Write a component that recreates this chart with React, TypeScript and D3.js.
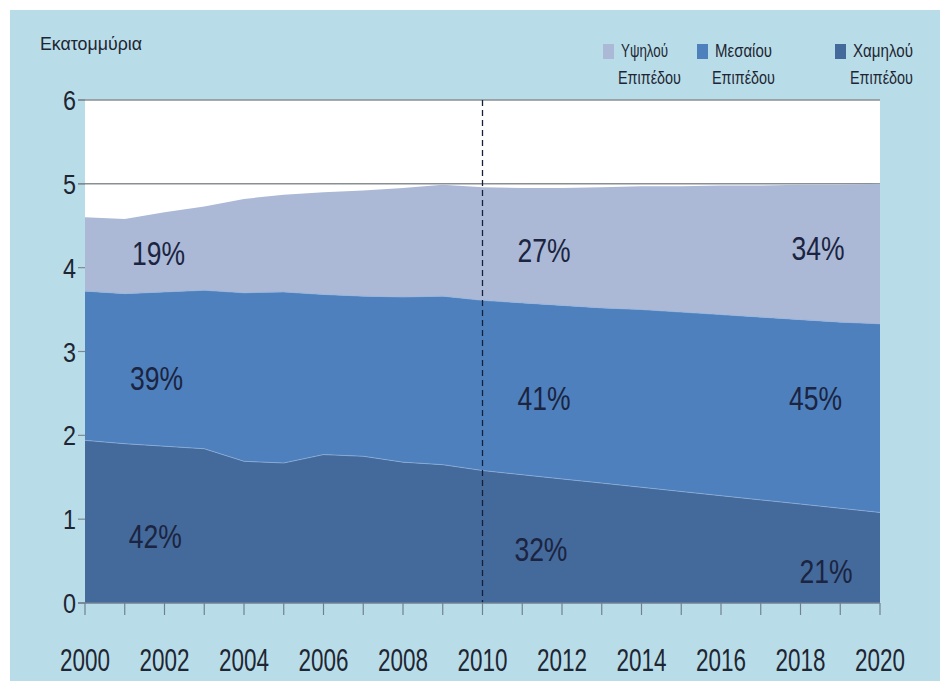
import React from "react";
import * as d3 from "d3";

// values (millions of people)
const years = d3.range(2000, 2021);
const lowLevel = [1.94, 1.9, 1.87, 1.84, 1.69, 1.67, 1.77, 1.75, 1.68, 1.65, 1.58, 1.53, 1.48, 1.43, 1.38, 1.33, 1.28, 1.23, 1.18, 1.13, 1.08];
const midLevel = [1.78, 1.79, 1.84, 1.89, 2.01, 2.04, 1.91, 1.91, 1.97, 2.01, 2.03, 2.05, 2.07, 2.09, 2.12, 2.14, 2.16, 2.18, 2.2, 2.22, 2.25];
const highLevel = [0.88, 0.89, 0.95, 1.0, 1.12, 1.16, 1.22, 1.26, 1.3, 1.33, 1.35, 1.37, 1.4, 1.44, 1.47, 1.5, 1.54, 1.57, 1.61, 1.64, 1.67];

const seriesKeys = ["low", "mid", "high"];
const seriesColors = ["#44699b", "#4e80bd", "#abb9d7"];
const legendLabels = ["Υψηλού", "Μεσαίου", "Χαμηλού"];
const yTicks = [0, 1, 2, 3, 4, 5, 6];
const xTickLabels = d3.range(2000, 2021, 2);

// share labels: [year, value, text]
const shareLabels: [number, number, string][] = [
  [2001.85, 4.03, "19%"],
  [2001.8, 2.54, "39%"],
  [2001.77, 0.66, "42%"],
  [2011.55, 4.07, "27%"],
  [2011.55, 2.3, "41%"],
  [2011.47, 0.5, "32%"],
  [2018.44, 4.09, "34%"],
  [2018.38, 2.3, "45%"],
  [2018.64, 0.24, "21%"],
];

const W = 940;
const H = 681;
const margin = { left: 85, right: 60, top: 100, bottom: 78 };
const font = "'Liberation Sans', Arial, sans-serif";

export default function App() {
  const x = d3.scaleLinear().domain([2000, 2020]).range([margin.left, W - margin.right]);
  const y = d3.scaleLinear().domain([0, 6]).range([H - margin.bottom, margin.top]);

  const rows = years.map((yr, i) => ({ year: yr, low: lowLevel[i], mid: midLevel[i], high: highLevel[i] }));
  const stacked = d3.stack<any>().keys(seriesKeys)(rows);
  const area = d3
    .area<any>()
    .x((d) => x(d.data.year))
    .y0((d) => y(d[0]))
    .y1((d) => y(d[1]));
  const topLine = d3
    .line<any>()
    .x((d) => x(d.data.year))
    .y((d) => y(d[1]));

  const [x0, x1] = x.range();
  const legendX = [603, 697, 835];
  const legendW = [47, 57, 60];

  return (
    <div style={{ position: "absolute", left: 0, top: 0 }}>
      <svg width={W} height={H} style={{ display: "block" }}>
        <rect x={0} y={0} width={W} height={H} fill="#ffffff" />
        <rect x={10} y={10} width={W - 10} height={H - 10} fill="#b9dde8" />
        <rect x={x0} y={y(6)} width={x1 - x0} height={y(0) - y(6)} fill="#ffffff" />

        {/* gridlines */}
        {[5, 6].map((t) => (
          <line key={t} x1={x0 - 7} x2={x1} y1={y(t)} y2={y(t)} stroke="#8a8f94" strokeWidth={1.5} />
        ))}

        {stacked.map((s, i) => (
          <path key={s.key} d={area(s)!} fill={seriesColors[i]} />
        ))}
        {stacked.slice(0, 2).map((s) => (
          <path key={s.key} d={topLine(s)!} fill="none" stroke="#8fb1dc" strokeWidth={1} opacity={0.7} />
        ))}

        {/* dashed 2010 line */}
        <line x1={x(2010)} x2={x(2010)} y1={y(6)} y2={y(0)} stroke="#14203a" strokeWidth={1.3} strokeDasharray="6,4" />

        {/* y axis ticks */}
        {yTicks.map((t) => (
          <g key={t}>
            <line x1={x0 - 7} x2={x0} y1={y(t)} y2={y(t)} stroke="#7d8791" strokeWidth={1.2} />
            <text
              x={76}
              y={y(t) + 10}
              textAnchor="end"
              fontFamily={font}
              fontSize={28}
              textLength={13}
              lengthAdjust="spacingAndGlyphs"
              fill="#1e2633"
            >
              {t}
            </text>
          </g>
        ))}

        {/* x axis */}
        <line x1={x0 - 7} x2={x1} y1={y(0)} y2={y(0)} stroke="#6f8093" strokeWidth={1.5} />
        {years.map((yr) => (
          <line key={yr} x1={x(yr)} x2={x(yr)} y1={y(0)} y2={y(0) + 12} stroke="#6f8093" strokeWidth={1.2} />
        ))}
        {xTickLabels.map((yr) => (
          <text
            key={yr}
            x={x(yr)}
            y={671}
            textAnchor="middle"
            fontFamily={font}
            fontSize={31}
            textLength={50}
            lengthAdjust="spacingAndGlyphs"
            fill="#1e2633"
          >
            {yr}
          </text>
        ))}

        {/* share labels */}
        {shareLabels.map(([yr, v, t]) => (
          <text
            key={t + yr}
            x={x(yr)}
            y={y(v)}
            textAnchor="middle"
            fontFamily={font}
            fontSize={33}
            textLength={53}
            lengthAdjust="spacingAndGlyphs"
            fill="#1b2440"
          >
            {t}
          </text>
        ))}

        {/* unit title */}
        <text
          x={40}
          y={50}
          fontFamily={font}
          fontSize={19}
          textLength={102}
          lengthAdjust="spacingAndGlyphs"
          fill="#1e2633"
        >
          Εκατομμύρια
        </text>

        {/* legend: high, mid, low */}
        {legendLabels.map((lab, i) => (
          <g key={lab}>
            <rect x={legendX[i]} y={44} width={11} height={15} fill={seriesColors[2 - i]} />
            <text
              x={legendX[i] + 18}
              y={57}
              fontFamily={font}
              fontSize={18}
              textLength={legendW[i]}
              lengthAdjust="spacingAndGlyphs"
              fill="#1e2633"
            >
              {lab}
            </text>
            <text
              x={legendX[i] + 15}
              y={84}
              fontFamily={font}
              fontSize={18}
              textLength={63}
              lengthAdjust="spacingAndGlyphs"
              fill="#1e2633"
            >
              Επιπέδου
            </text>
          </g>
        ))}
      </svg>
    </div>
  );
}
